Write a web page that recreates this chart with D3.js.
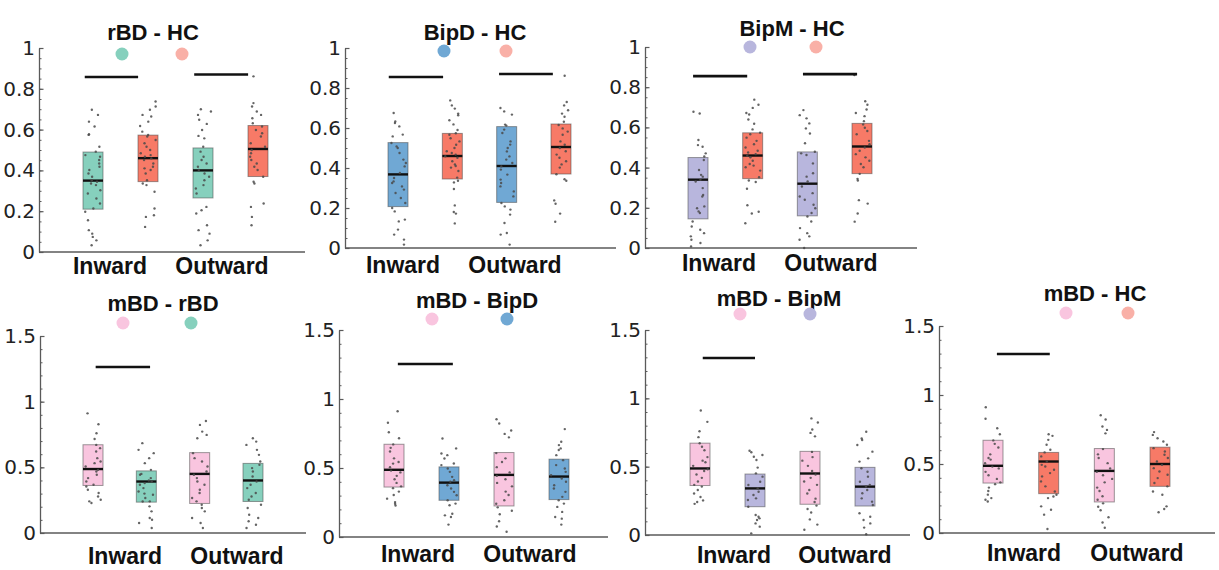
<!DOCTYPE html>
<html><head><meta charset="utf-8">
<script src="https://cdn.jsdelivr.net/npm/d3@7"></script>
<style>body{margin:0;background:#fff}</style>
</head><body><svg id="c" width="1219" height="570"></svg>
<script>
// ---------------- DATA ----------------
const categories = ["Inward", "Outward"];
const titles = ["rBD - HC", "BipD - HC", "BipM - HC", "mBD - rBD", "mBD - BipD", "mBD - BipM", "mBD - HC"];
const pairs = [["rBD","HC"],["BipD","HC"],["BipM","HC"],["mBD","rBD"],["mBD","BipD"],["mBD","BipM"],["mBD","HC"]];
const boxColors = {rBD:"#86d0bd", BipD:"#70a8d4", BipM:"#b8b6dd", HC:"#f77a67", mBD:"#f9c5df"};
const markerColors = {rBD:"#86d0bd", BipD:"#70a8d4", BipM:"#b8b6dd", HC:"#f9b0a7", mBD:"#f9c5df"};
const ticksTop = [0, 0.2, 0.4, 0.6, 0.8, 1];
const minorTop = d3.range(0, 21).map(i => i * 0.05);
const ticksBottom = [0, 0.5, 1, 1.5];
const minorBottom = d3.range(0, 16).map(i => i * 0.1);

// box statistics per panel, order: [g1 Inward, g2 Inward, g1 Outward, g2 Outward]
const q1s  = [[0.21,0.345,0.265,0.37],[0.207,0.345,0.228,0.37],[0.145,0.345,0.16,0.37],
              [0.362,0.235,0.225,0.24],[0.362,0.266,0.225,0.271],[0.362,0.207,0.225,0.212],[0.362,0.285,0.225,0.338]];
const meds = [[0.35,0.46,0.40,0.505],[0.368,0.46,0.41,0.505],[0.34,0.46,0.32,0.505],
              [0.487,0.392,0.45,0.40],[0.487,0.394,0.45,0.438],[0.487,0.341,0.45,0.354],[0.487,0.518,0.45,0.50]];
const q3s  = [[0.49,0.573,0.51,0.62],[0.527,0.573,0.607,0.62],[0.45,0.573,0.478,0.62],
              [0.672,0.473,0.612,0.53],[0.672,0.508,0.612,0.564],[0.672,0.446,0.612,0.495],[0.672,0.584,0.612,0.622]];

// significance bars: [from box index, to box index, y value]
const sigBars = [
  [[-0.15,0.82,0.858],[1.84,2.82,0.87]],
  [[-0.17,0.83,0.855],[1.86,2.85,0.87]],
  [[-0.09,0.90,0.855],[1.92,2.91,0.865]],
  [[0.05,1.07,1.264]],
  [[0.07,1.07,1.254]],
  [[0.05,1.00,1.295]],
  [[0.07,1.02,1.297]]
];

// individual subject values
const rBD_HC_in = [0.697,0.672,0.639,0.615,0.577,0.574,0.516,0.492,0.475,0.467,0.451,0.434,0.418,0.402,0.385,0.369,0.352,0.344,0.336,0.328,0.303,0.287,0.262,0.238,0.213,0.197,0.156,0.107,0.090,0.074,0.057,0.033];
const rBD_HC_out = [0.70,0.689,0.672,0.648,0.628,0.598,0.569,0.557,0.516,0.492,0.467,0.451,0.434,0.418,0.402,0.385,0.369,0.352,0.328,0.311,0.287,0.221,0.205,0.189,0.131,0.107,0.090,0.057,0.033];
const HC_top_in = [0.738,0.713,0.697,0.672,0.664,0.639,0.618,0.59,0.574,0.566,0.549,0.533,0.516,0.5,0.484,0.475,0.467,0.459,0.451,0.434,0.418,0.41,0.402,0.385,0.352,0.336,0.328,0.295,0.213,0.18,0.172,0.123];
const HC_top_out = [0.861,0.730,0.713,0.689,0.672,0.656,0.631,0.615,0.598,0.582,0.566,0.533,0.516,0.5,0.484,0.467,0.451,0.434,0.418,0.402,0.369,0.344,0.336,0.238,0.221,0.172,0.131];
const BipD_HC_in = [0.675,0.633,0.625,0.608,0.567,0.558,0.525,0.508,0.5,0.475,0.442,0.425,0.408,0.375,0.35,0.333,0.325,0.308,0.292,0.275,0.25,0.225,0.2,0.183,0.142,0.133,0.092,0.067,0.042,0.017];
const BipD_HC_out = [0.70,0.683,0.667,0.617,0.612,0.592,0.575,0.533,0.517,0.5,0.483,0.458,0.442,0.425,0.408,0.392,0.367,0.342,0.325,0.308,0.283,0.258,0.225,0.208,0.192,0.167,0.125,0.075,0.067,0.017];
const BipM_HC_in = [0.678,0.669,0.537,0.512,0.504,0.471,0.455,0.438,0.388,0.364,0.355,0.339,0.331,0.298,0.264,0.256,0.207,0.198,0.182,0.174,0.132,0.107,0.091,0.074,0.058,0.041,0.025,0.008];
const BipM_HC_out = [0.686,0.661,0.645,0.62,0.595,0.570,0.521,0.479,0.471,0.463,0.421,0.372,0.355,0.331,0.306,0.273,0.256,0.240,0.215,0.198,0.174,0.157,0.132,0.099,0.074,0.058,0.041,0.0];
const mBD_in = [0.911,0.828,0.759,0.716,0.671,0.646,0.620,0.570,0.544,0.532,0.506,0.481,0.468,0.443,0.418,0.392,0.367,0.354,0.329,0.304,0.278,0.253,0.241,0.228];
const mBD_out = [0.853,0.823,0.772,0.747,0.722,0.608,0.570,0.544,0.506,0.468,0.443,0.418,0.392,0.367,0.329,0.304,0.266,0.241,0.215,0.190,0.165,0.114,0.076,0.038];
const rBD_m_in = [0.684,0.633,0.608,0.570,0.532,0.481,0.45,0.443,0.418,0.40,0.392,0.38,0.367,0.342,0.316,0.30,0.291,0.266,0.241,0.24,0.203,0.165,0.114,0.101,0.076,0.038];
const rBD_m_out = [0.722,0.696,0.671,0.633,0.595,0.544,0.519,0.494,0.468,0.430,0.392,0.367,0.342,0.304,0.278,0.253,0.215,0.190,0.139,0.114,0.089,0.063,0.038];
const BipD_m_in = [0.714,0.642,0.605,0.593,0.569,0.533,0.521,0.496,0.472,0.436,0.412,0.400,0.375,0.351,0.327,0.303,0.266,0.242,0.230,0.169,0.157,0.145,0.090];
const BipD_m_out = [0.782,0.690,0.666,0.642,0.630,0.593,0.557,0.521,0.496,0.472,0.448,0.424,0.400,0.375,0.351,0.327,0.291,0.266,0.242,0.218,0.182,0.145,0.133,0.090];
const BipM_m_in = [0.617,0.605,0.585,0.573,0.549,0.493,0.451,0.427,0.390,0.366,0.341,0.317,0.293,0.268,0.256,0.207,0.146,0.134,0.122,0.110,0.085,0.061,0.012];
const BipM_m_out = [0.756,0.707,0.695,0.659,0.610,0.561,0.537,0.488,0.463,0.427,0.390,0.366,0.354,0.329,0.305,0.268,0.244,0.220,0.159,0.134,0.110,0.085,0.054,0.005];
const HC_m_in = [0.716,0.704,0.675,0.639,0.603,0.584,0.555,0.518,0.494,0.482,0.458,0.434,0.410,0.374,0.338,0.301,0.277,0.265,0.253,0.193,0.169,0.133,0.029];
const HC_m_out = [0.731,0.711,0.687,0.663,0.639,0.615,0.591,0.567,0.543,0.518,0.494,0.470,0.446,0.422,0.398,0.362,0.338,0.301,0.277,0.193,0.174,0.150];

const points = [
  [rBD_HC_in, HC_top_in, rBD_HC_out, HC_top_out],
  [BipD_HC_in, HC_top_in, BipD_HC_out, HC_top_out],
  [BipM_HC_in, HC_top_in, BipM_HC_out, HC_top_out],
  [mBD_in, rBD_m_in, mBD_out, rBD_m_out],
  [mBD_in, BipD_m_in, mBD_out, BipD_m_out],
  [mBD_in, BipM_m_in, mBD_out, BipM_m_out],
  [mBD_in, HC_m_in, mBD_out, HC_m_out]
];

// ---------------- LAYOUT ----------------
const layout = [
  {ax:39,  ar:305,  y0:252, yT:48,  c0:93,  c3:258,  tx:153,  ty:32,  d:[122,182],  dy:54,  lx:[110,222],   ly:266, top:true},
  {ax:345, ar:616,  y0:248, yT:48,  c0:398, c3:561,  tx:475,  ty:32,  d:[444,506],  dy:51,  lx:[403,515],   ly:265, top:true},
  {ax:645, ar:917,  y0:248, yT:47,  c0:698, c3:862,  tx:792,  ty:28,  d:[750,816],  dy:47,  lx:[719,831],   ly:263, top:true},
  {ax:40,  ar:306,  y0:533, yT:336, c0:93,  c3:253,  tx:163,  ty:303, d:[123,191],  dy:323, lx:[125,237],   ly:556, top:false},
  {ax:339, ar:608,  y0:537, yT:330, c0:394, c3:559,  tx:477,  ty:300, d:[432,507],  dy:319, lx:[418,530],   ly:554, top:false},
  {ax:645, ar:910,  y0:535, yT:330, c0:700, c3:865,  tx:779,  ty:298, d:[740,810],  dy:314, lx:[734,845],   ly:555, top:false},
  {ax:939, ar:1215, y0:533, yT:326, c0:993, c3:1160, tx:1095, ty:293, d:[1066,1128],dy:313, lx:[1024,1137], ly:553, top:false}
];

const svg = d3.select("#c");
const axisColor = "#5a5a5a";
const boxW = 20;
const rnd = d3.randomUniform.source(d3.randomLcg(0.4217))(-8, 8);

layout.forEach((L, p) => {
  const g = svg.append("g");
  const ymax = L.top ? 1 : 1.5;
  const y = d3.scaleLinear().domain([0, ymax]).range([L.y0, L.yT]);
  const x = d3.scaleLinear().domain([0, 3]).range([L.c0, L.c3]);
  const xc = d3.scalePoint().domain(categories).range(L.lx);
  const groups = [pairs[p][0], pairs[p][1], pairs[p][0], pairs[p][1]];

  // y axis minor ticks
  const minor = g.append("g").attr("transform", `translate(${L.ax},0)`)
    .call(d3.axisLeft(y).tickValues(L.top ? minorTop : minorBottom).tickSize(-2.5).tickFormat(""));
  minor.select(".domain").remove();
  minor.selectAll("line").attr("stroke", axisColor).attr("stroke-width", 1);

  // y axis major
  const ya = g.append("g").attr("transform", `translate(${L.ax},0)`)
    .call(d3.axisLeft(y).tickValues(L.top ? ticksTop : ticksBottom).tickSize(-4.5).tickSizeOuter(0).tickPadding(4)
      .tickFormat(d => String(d)));
  ya.select(".domain").attr("stroke", axisColor).attr("stroke-width", 1.3);
  ya.selectAll("line").attr("stroke", axisColor).attr("stroke-width", 1.2);
  ya.selectAll("text").attr("font-family", "DejaVu Sans, sans-serif").attr("font-size", 20).attr("fill", "#222");

  // x axis line
  g.append("line").attr("x1", L.ax).attr("x2", L.ar).attr("y1", y(0)).attr("y2", y(0))
    .attr("stroke", axisColor).attr("stroke-width", 1.3);

  // boxes
  [0,1,2,3].forEach(i => {
    const cx = x(i);
    g.append("rect").attr("x", cx - boxW/2).attr("width", boxW)
      .attr("y", y(q3s[p][i])).attr("height", y(q1s[p][i]) - y(q3s[p][i]))
      .attr("fill", boxColors[groups[i]]).attr("stroke", "#4a4a4a").attr("stroke-opacity", 0.55).attr("stroke-width", 1);
    g.append("line").attr("x1", cx - boxW/2).attr("x2", cx + boxW/2)
      .attr("y1", y(meds[p][i])).attr("y2", y(meds[p][i]))
      .attr("stroke", "#111").attr("stroke-width", 2.4);
    g.selectAll(null).data(points[p][i]).enter().append("circle")
      .attr("cx", () => cx + rnd()).attr("cy", d => y(d)).attr("r", 1.2)
      .attr("fill", "#4a4a4a").attr("fill-opacity", 0.85);
  });

  // significance bars
  sigBars[p].forEach(s => {
    g.append("line").attr("x1", x(s[0])).attr("x2", x(s[1])).attr("y1", y(s[2])).attr("y2", y(s[2]))
      .attr("stroke", "#111").attr("stroke-width", 2.6);
  });

  // title
  g.append("text").attr("x", L.tx).attr("y", L.ty).attr("text-anchor", "middle").attr("dominant-baseline", "central")
    .attr("font-family", "Liberation Sans, Arial, sans-serif").attr("font-weight", "bold").attr("font-size", 22)
    .attr("fill", "#111").text(titles[p]);

  // group markers
  pairs[p].forEach((gr, k) => {
    g.append("circle").attr("cx", L.d[k]).attr("cy", L.dy).attr("r", 6.5).attr("fill", markerColors[gr]);
  });

  // category labels
  g.selectAll(null).data(categories).enter().append("text")
    .attr("x", d => xc(d)).attr("y", L.ly).attr("text-anchor", "middle").attr("dominant-baseline", "central")
    .attr("font-family", "Liberation Sans, Arial, sans-serif").attr("font-weight", "bold").attr("font-size", 23)
    .attr("fill", "#111").text(d => d);
});
</script>
</body></html>
